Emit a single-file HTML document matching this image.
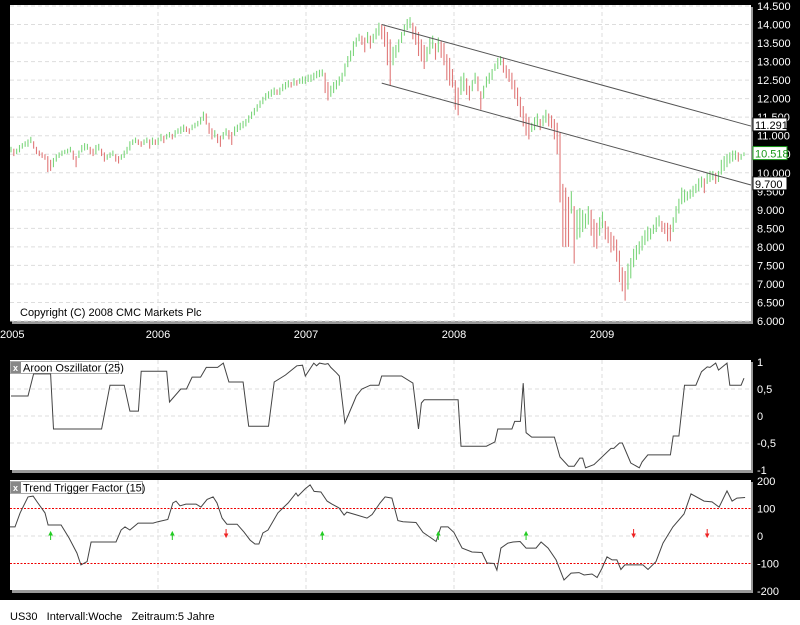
<!DOCTYPE html>
<html><head><meta charset="utf-8"><style>
html,body{margin:0;padding:0;background:#000;width:800px;height:625px;overflow:hidden}
svg{display:block;font-family:"Liberation Sans",sans-serif}
</style></head><body>
<svg id="c" width="800" height="625" viewBox="0 0 800 625" xmlns="http://www.w3.org/2000/svg">
<rect x="0" y="0" width="800" height="625" fill="#000"/>
<rect x="0" y="600" width="800" height="25" fill="#fff"/>
<text x="10" y="620" font-size="11" fill="#000">US30 &#160; Intervall:Woche &#160; Zeitraum:5 Jahre</text>
<g id="main"></g><g id="aroon"></g><g id="ttf"></g>
</svg>
<script>
const priceTicks=[14500,14000,13500,13000,12500,12000,11500,11000,10500,10000,9500,9000,8500,8000,7500,7000,6500,6000];
const yearLabels=["2005","2006","2007","2008","2009"];
const yearWeeks=[0,52,104,156,208];
const highs=[10700,10650,10650,10750,10800,10850,10900,10970,10850,10700,10600,10550,10500,10450,10350,10400,10500,10550,10600,10620,10650,10700,10600,10450,10600,10750,10800,10780,10700,10650,10750,10780,10650,10550,10500,10550,10600,10500,10450,10500,10600,10700,10850,10900,10950,10900,10850,10900,10950,10900,10950,10900,
10950,11050,11000,11050,11100,11050,11150,11200,11250,11300,11250,11200,11300,11350,11400,11500,11650,11600,11350,11200,11150,11050,11000,11100,11200,11150,11100,11250,11300,11350,11400,11450,11550,11650,11750,11850,11950,12050,12150,12200,12250,12300,12250,12300,12400,12450,12500,12450,12550,12500,12550,12600,
12600,12650,12650,12700,12750,12780,12790,12700,12450,12350,12450,12500,12600,12700,12950,13150,13300,13550,13650,13750,13700,13650,13800,13700,13750,13900,14050,14000,13950,13800,13600,13400,13450,13600,13800,14000,14150,14200,14050,13950,13800,13600,13450,13400,13650,13700,13500,13650,13550,13500,13200,13100,
12800,12500,12300,12600,12700,12550,12350,12500,12700,12600,12200,12350,12600,12700,12800,12950,13100,13150,13100,12900,12800,12700,12500,12300,12050,11800,11600,11500,11350,11500,11600,11450,11550,11700,11600,11550,11450,11350,11100,9700,9600,9350,9500,9100,9000,9050,9000,8900,9100,9000,8750,8650,
8800,8950,8700,8550,8400,8300,8200,7900,7450,7350,7550,7700,7950,8050,8150,8300,8450,8550,8500,8600,8800,8850,8700,8650,8650,8600,8800,9100,9300,9600,9550,9500,9550,9650,9700,9850,9900,9850,10000,10050,10050,10000,10050,10350,10450,10500,10550,10600,10600,10550,10500,10550];
const lows=[10550,10450,10500,10550,10650,10700,10700,10800,10650,10500,10450,10400,10350,10020,10050,10150,10300,10400,10450,10500,10520,10550,10350,10150,10400,10550,10600,10620,10500,10450,10500,10600,10450,10300,10350,10400,10450,10300,10250,10350,10400,10500,10600,10750,10800,10750,10700,10750,10800,10650,10750,10750,
10750,10850,10800,10900,10950,10900,10950,11050,11050,11100,11100,11050,11150,11200,11250,11300,11400,11300,11050,10900,10950,10800,10700,10900,11000,10900,10750,11000,11100,11150,11200,11250,11350,11450,11550,11650,11750,11850,11950,12000,12050,12100,12100,12100,12200,12250,12300,12300,12350,12350,12400,12400,
12400,12450,12450,12500,12550,12580,12600,12150,11950,12050,12150,12250,12350,12450,12600,12850,13000,13150,13400,13550,13450,13250,13500,13350,13500,13600,13700,13600,13400,12900,12350,12900,13100,13250,13500,13700,13850,13900,13600,13450,13150,13000,12800,13000,13200,13350,13050,13250,13100,12900,12500,12350,
12300,11700,11550,12100,12200,12100,11950,12200,12400,12200,11700,12000,12300,12400,12500,12750,12800,12900,12700,12550,12450,12250,12000,11800,11500,11250,11000,10900,11100,11150,11250,11150,11250,11350,11250,11200,10900,10500,9200,8000,8000,8000,8900,7550,8200,8250,8400,8500,8600,8300,8000,7950,
8300,8500,8200,8100,7850,7900,7600,7050,6800,6550,6850,7150,7450,7650,7800,7900,8050,8150,8200,8350,8400,8550,8400,8350,8150,8150,8400,8650,8900,9150,9200,9250,9300,9350,9450,9500,9600,9450,9700,9750,9800,9700,9750,9950,10050,10150,10250,10300,10350,10300,10350,10450];
const channelWeeks=[131,260];
const upperChannel=[14000,11291];
const lowerChannel=[12420,9700];
const lastPrice=10518;
const aroonWeeks=[0,6,8,14,15,32,35,40,42,45,46,55,56,60,62,64,67,69,73,75,77,82,84,91,93,97,101,103,104,106,107,108,109,111,112,113,115,116,118,121,122,124,127,130,131,138,142,144,145,146,158,159,168,171,172,177,178,180,181,182,184,192,194,197,199,201,202,203,206,212,213,215,216,219,222,223,225,233,234,236,238,242,244,246,247,249,250,253,254,258,259];
const aroonVals=[0.37,0.37,0.78,0.78,-0.24,-0.24,0.57,0.57,0.09,0.09,0.83,0.83,0.26,0.5,0.5,0.72,0.72,0.9,0.9,0.98,0.63,0.63,-0.19,-0.19,0.63,0.76,0.93,0.94,0.74,0.9,0.98,0.93,0.98,0.96,0.97,0.9,0.8,0.74,-0.13,0.24,0.37,0.5,0.57,0.57,0.74,0.74,0.61,-0.24,0.24,0.3,0.3,-0.56,-0.56,-0.48,-0.24,-0.24,-0.1,-0.1,0.61,-0.31,-0.39,-0.39,-0.76,-0.93,-0.93,-0.78,-0.78,-0.96,-0.9,-0.6,-0.6,-0.5,-0.5,-0.87,-0.96,-0.85,-0.72,-0.72,-0.37,-0.37,0.57,0.57,0.82,0.91,0.9,0.98,0.85,0.98,0.57,0.57,0.7,0.9,0.9];
const aroonTicks=[1,0.5,0,-0.5,-1];
const aroonTickLabels=["1","0,5","0","-0,5","-1"];
const ttfWeeks=[-0.4,1.4,3.2,6,7.8,9.5,12,13.1,17.7,20.5,23.3,24.7,26.9,28.3,37.1,38.9,40.3,42,44.9,50.2,51.9,55.4,57.2,58.3,59.7,61.8,65.4,67.1,69.3,71.4,72.8,74.6,76.3,79.9,82.3,84.5,86.2,87.6,89,90.8,94.3,96.1,97.9,100.7,101.4,103.9,105.7,107.1,109.5,111.7,113.4,115.9,117.7,118.7,121.6,125.8,127.6,130.4,132.2,134.6,136.7,138.5,143.1,145.6,148.4,150.2,151.9,154.4,156.5,159.4,162.9,166.4,168.2,170.7,171.7,173.1,175.6,177.4,179.9,182,185.5,187.3,189.8,192.6,195.4,197.9,200.7,202.5,205.3,207.1,208.8,210.6,212.4,214.1,215.5,216.9,223.3,225.1,227.9,230.4,233.9,237.8,240.3,244.9,247.7,250.2,253,254.8,256.5,259.4];
const ttfVals=[33,33,84,142,145,120,84,40,40,-7,-62,-105,-93,-22,-22,22,33,22,47,47,52,60,120,127,110,116,116,105,133,142,120,65,43,43,15,-15,-29,-29,11,22,84,102,120,156,145,171,186,162,160,127,116,102,76,87,78,65,78,120,142,138,56,52,49,13,-7,-20,33,33,13,-44,-58,-60,-98,-100,-124,-44,-26,-22,-20,-44,-44,-22,-44,-87,-160,-135,-133,-142,-138,-151,-118,-76,-87,-87,-122,-105,-105,-122,-93,-26,33,80,153,127,124,105,164,127,138,140];
const ttfTicks=[200,100,0,-100,-200];
const buyWeeks=[14,57,110,151,182];
const sellWeeks=[76,220,246];

const NS="http://www.w3.org/2000/svg";
function mk(tag,attrs,parent){const e=document.createElementNS(NS,tag);for(const k in attrs)e.setAttribute(k,attrs[k]);parent.appendChild(e);return e;}
const xW=w=>11+w*2.83;
const yP=p=>6+(14500-p)*315/8500;
const yA=v=>362+(1-v)*54;
const yT=v=>481+(200-v)*0.275;
const yearX=w=>10+w*(148/52);

const gm=document.getElementById('main');
let r=mk('rect',{x:12,y:7,width:741,height:317,fill:'#999'},gm);

r=mk('rect',{x:10,y:5,width:741,height:316,fill:'#fff'},gm);

priceTicks.forEach(p=>{
  const y=yP(p);
  let l=mk('line',{x1:10,x2:751,y1:y,y2:y,stroke:'#ddd','stroke-dasharray':'4,3'},gm);
  
  let t=mk('text',{x:757,y:y+4,'font-size':11,fill:'#fff'},gm);
  
  t.textContent=String(p).replace(/(\d+)(\d{3})$/,'$1.$2');
});
yearWeeks.forEach((w,i)=>{
  const x=yearX(w);
  if(i>0){let l=mk('line',{x1:x,x2:x,y1:5,y2:321,stroke:'#ddd','stroke-dasharray':'4,3'},gm);
  }
  let t=mk('text',{x:x,y:338,'font-size':11,fill:'#fff','text-anchor':i==0?'start':'middle'},gm);
  if(i==0)t.setAttribute('x',0);
  
  t.textContent=yearLabels[i];
});
highs.forEach((h,i)=>{
  const mid=(h+lows[i])/2, pm=i>0?(highs[i-1]+lows[i-1])/2:mid;
  const up=mid>=pm;
  const x=xW(i);
  let l=mk('line',{x1:x,x2:x,y1:yP(h),y2:yP(lows[i]),stroke:up?'#7cd67c':'#e07878','stroke-width':1.1},gm);
  
});
[[upperChannel,'upper-channel-line'],[lowerChannel,'lower-channel-line']].forEach(([c,n])=>{
  let l=mk('line',{x1:xW(channelWeeks[0]),y1:yP(c[0]),x2:751,y2:yP(c[0]+(c[1]-c[0])*(751-xW(channelWeeks[0]))/(xW(channelWeeks[1])-xW(channelWeeks[0]))),stroke:'#555','stroke-width':1},gm);
  
});
function box(v,color,name){
  const y=yP(v);
  let b=mk('rect',{x:753,y:y-7,width:34,height:13,fill:'#fff',stroke:color},gm);
  
  let t=mk('text',{x:755,y:y+4,'font-size':11,fill:color=='#000'?'#000':'#1a9a1a'},gm);
  
  t.textContent=String(v).replace(/(\d+)(\d{3})$/,'$1.$2');
}
box(upperChannel[1],'#000','upper-channel-value');
box(lastPrice,'#1a9a1a','last-price-value');
box(lowerChannel[1],'#000','lower-channel-value');
let ct=mk('text',{x:20,y:316,'font-size':11,fill:'#000'},gm);

ct.textContent='Copyright (C) 2008 CMC Markets Plc';

function panel(g,top,bot,name,title,tw){
  let s=mk('rect',{x:12,y:top+2,width:741,height:bot-top+1,fill:'#999'},g);
  
  let p=mk('rect',{x:10,y:top,width:741,height:bot-top,fill:'#fff'},g);
  
  yearWeeks.slice(1).forEach(w=>{const x=yearX(w);
    let l=mk('line',{x1:x,x2:x,y1:top,y2:bot,stroke:'#ddd','stroke-dasharray':'4,3'},g);
    });
  let tb=mk('rect',{x:10.5,y:top+1.5,width:tw,height:12,fill:'#fff',stroke:'#aaa'},g);
  
  let ic=mk('rect',{x:11,y:top+2,width:10,height:11,fill:'#888'},g);
  
  let ix=mk('text',{x:13,y:top+11,'font-size':9,fill:'#fff','font-weight':'bold'},g);
  
  ix.textContent='x';
  let tt=mk('text',{x:23,y:top+11.5,'font-size':11,fill:'#000'},g);
  
  tt.textContent=title;
}
const ga=document.getElementById('aroon');
panel(ga,360,470,'aroon-panel','Aroon Oszillator (25)',108);
aroonTicks.forEach((v,i)=>{const y=yA(v);
  if(i>0&&i<4){let l=mk('line',{x1:10,x2:751,y1:y,y2:y,stroke:'#ddd','stroke-dasharray':'4,3'},ga);
  }
  let t=mk('text',{x:757,y:y+4,'font-size':11,fill:'#fff'},ga);
  
  t.textContent=aroonTickLabels[i];});
let ap=mk('polyline',{points:aroonWeeks.map((w,i)=>xW(w).toFixed(1)+','+yA(aroonVals[i]).toFixed(1)).join(' '),fill:'none',stroke:'#444','stroke-width':1},ga);


const gt=document.getElementById('ttf');
panel(gt,480,590,'ttf-panel','Trend Trigger Factor (15)',132);
ttfTicks.forEach(v=>{const y=yT(v);
  if(v==0){let l=mk('line',{x1:10,x2:751,y1:y,y2:y,stroke:'#ddd','stroke-dasharray':'4,3'},gt);
  }
  if(Math.abs(v)==100){let l=mk('line',{x1:10,x2:751,y1:y,y2:y,stroke:'#e00','stroke-dasharray':'2,1.5'},gt);
  }
  let t=mk('text',{x:757,y:y+4,'font-size':11,fill:'#fff'},gt);
  
  t.textContent=String(v);});
let tp=mk('polyline',{points:ttfWeeks.map((w,i)=>Math.max(10,xW(w)).toFixed(1)+','+yT(ttfVals[i]).toFixed(1)).join(' '),fill:'none',stroke:'#444','stroke-width':1},gt);

buyWeeks.forEach(w=>{const x=xW(w),y=yT(0);
  let a=mk('path',{d:`M${x},${y-4}L${x-1.5},${y-1}L${x+1.5},${y-1}Z M${x},${y-1}V${y+4}`,stroke:'#2c2',fill:'#2c2','stroke-width':1},gt);
  });
sellWeeks.forEach(w=>{const x=xW(w),y=yT(0)-3;
  let a=mk('path',{d:`M${x},${y+4}L${x-1.5},${y+1}L${x+1.5},${y+1}Z M${x},${y+1}V${y-4}`,stroke:'#e22',fill:'#e22','stroke-width':1},gt);
  });
</script>
</body></html>
